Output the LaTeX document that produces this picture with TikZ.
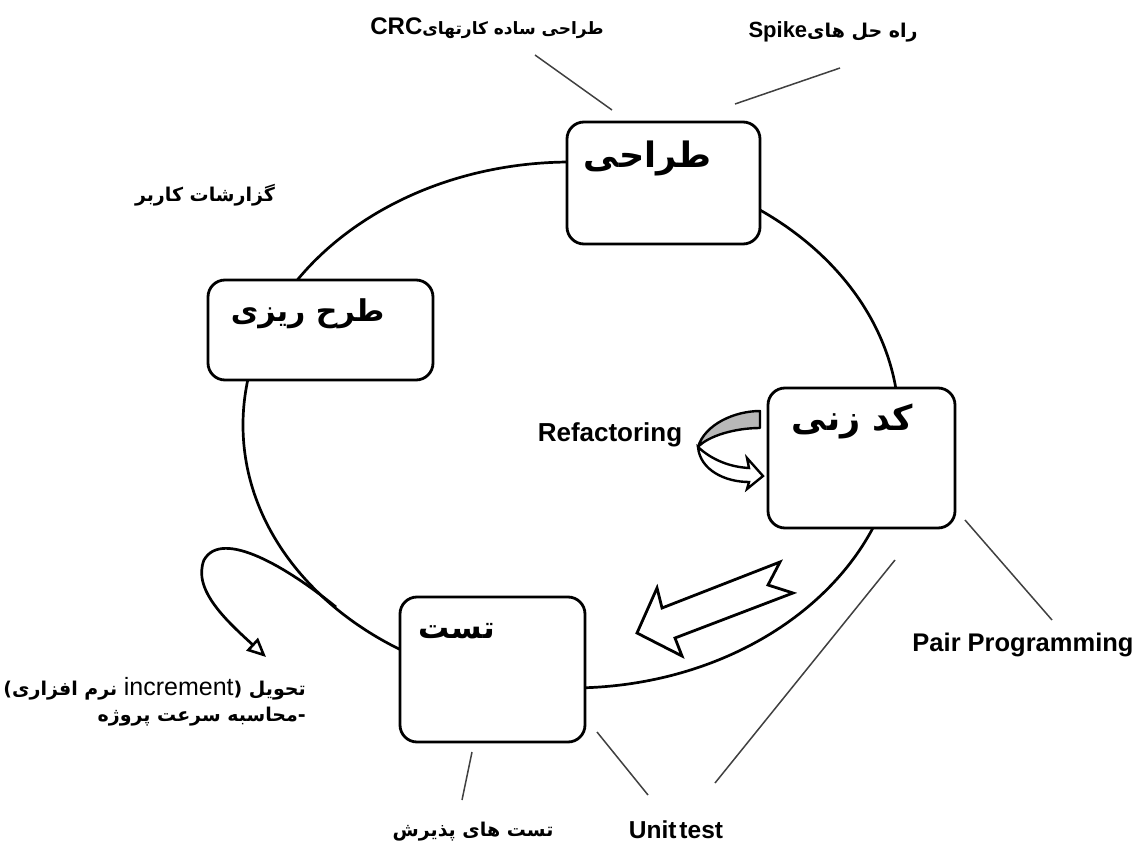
\documentclass[tikz,border=0pt]{standalone}
\usepackage{fontspec}
\setmainfont{Liberation Sans}
\newfontfamily\fa[Script=Arabic]{DejaVu Sans}
\TeXXeTstate=1
\usetikzlibrary{arrows.meta,shapes.geometric}

\begin{document}
\begin{tikzpicture}[x=1pt,y=-1pt,
  stagebox/.style={draw=black, line width=2.8pt, rounded corners=17pt, fill=white, inner sep=0pt},
  stagetitle/.style={anchor=north west, inner sep=0pt, font=\fa\bfseries\fontsize{#1}{#1}\selectfont},
  note/.style={inner sep=0pt, font=\fa\bfseries\fontsize{19}{26}\selectfont},
  latinnote/.style={inner sep=0pt, font=\bfseries\fontsize{#1}{#1}\selectfont},
  leader/.style={draw=black!75, line width=1.5pt},
  flow/.style={draw=black, line width=2.7pt},
  hollowarrow/.style={draw=black, line width=2.8pt, fill=white, line join=miter},
]
\useasboundingbox (0,0) rectangle (1141,848);
\fill[white] (0,0) rectangle (1141,848);

% the iteration cycle
\node[flow, ellipse, minimum width=656pt, minimum height=526pt, inner sep=0pt] (cycle) at (571,425) {};

% loop that hands the increment out of the cycle
\coordinate (relStart) at (336,607);
\coordinate (relEnd) at (266,657);
\draw[flow, -{Triangle[open, length=19pt, width=17pt, line width=2.6pt]}]
  (relStart) .. controls (288,568) and (222,528) .. (204,560)
             .. controls (192,590) and (228,622) .. (relEnd);

% the four stages
\node[stagebox, minimum width=193pt, minimum height=122pt] (design) at (663.5,183) {};
\node[stagebox, minimum width=225pt, minimum height=100pt] (planning) at (320.5,330) {};
\node[stagebox, minimum width=187pt, minimum height=140pt] (coding) at (861.5,458) {};
\node[stagebox, minimum width=185pt, minimum height=145pt] (testing) at (492.5,669.5) {};

\node[stagetitle=35] (designT) at ([shift={(18,20)}]design.north west) {\beginR طراحی\endR};
\node[stagetitle=30] (planningT) at ([shift={(24,20)}]planning.north west) {\beginR طرح ریزی\endR};
\node[stagetitle=35] (codingT) at ([shift={(25,17)}]coding.north west) {\beginR کد زنی\endR};
\node[stagetitle=31] (testingT) at ([shift={(20,28)}]testing.north west) {\beginR تست\endR};

% hand-over from coding to testing
\draw[hollowarrow] (637,633) -- (657,588) -- (662,608) -- (780,562) -- (768,585)
  -- (793,593) -- (675,638) -- (682,656) -- cycle;

% refactoring turn
\draw[draw=black, line width=2.4pt, fill=black!28, line join=round]
  (760,411) .. controls (735,411) and (705,424) .. (698,447)
  .. controls (708,436) and (735,428) .. (760,428) -- cycle;
\draw[draw=black, line width=2.4pt, fill=white, line join=miter]
  (698,447) .. controls (712,460) and (730,467) .. (749,468)
  -- (747,458) -- (763,476) -- (747,489) -- (749,482)
  .. controls (725,482) and (700,470) .. (698,447) -- cycle;
\node[latinnote=26] (refactor) at (610,435) {Refactoring};

% labels around the cycle
\node[note, font=\fa\bfseries\fontsize{17}{22}\selectfont] (crc) at (487,28)
  {\beginR طراحی ساده کارتهای\beginL{\rmfamily\bfseries\fontsize{24}{26}\selectfont CRC}\endL\endR};
\node[note] (spike) at (833,32)
  {\beginR راه حل های\beginL{\rmfamily\bfseries\fontsize{22}{26}\selectfont Spike}\endL\endR};
\node[note] (stories) at (205,195) {\beginR گزارشات کاربر\endR};
\node[latinnote=25.5] (pair) at (1023,645) {Pair Programming};
\node[latinnote=24.5] (unit) at (676,830) {Unit\hspace{0.12em}test};
\node[note] (accept) at (473,832) {\beginR تست های پذیرش\endR};
\node[note, anchor=north east, align=right] (release) at (306,677)
  {\beginR تحویل (\beginL{\rmfamily\mdseries\fontsize{25}{26}\selectfont increment}\endL{} نرم افزاری)\endR\\
   \beginR -محاسبه سرعت پروژه\endR};

% leader lines
\coordinate (crcA) at (535,55);   \coordinate (crcB) at (612,110);
\coordinate (spA) at (840,68);    \coordinate (spB) at (735,104);
\coordinate (ppA) at (1052,620);  \coordinate (ppB) at (965,520);
\coordinate (utA) at (715,783);   \coordinate (utB) at (895,560);
\coordinate (utC) at (648,795);   \coordinate (utD) at (597,732);
\coordinate (atA) at (462,800);   \coordinate (atB) at (472,752);
\draw[leader] (crcA) -- (crcB);
\draw[leader] (spA) -- (spB);
\draw[leader] (ppA) -- (ppB);
\draw[leader] (utA) -- (utB);
\draw[leader] (utC) -- (utD);
\draw[leader] (atA) -- (atB);
\end{tikzpicture}
\end{document}
